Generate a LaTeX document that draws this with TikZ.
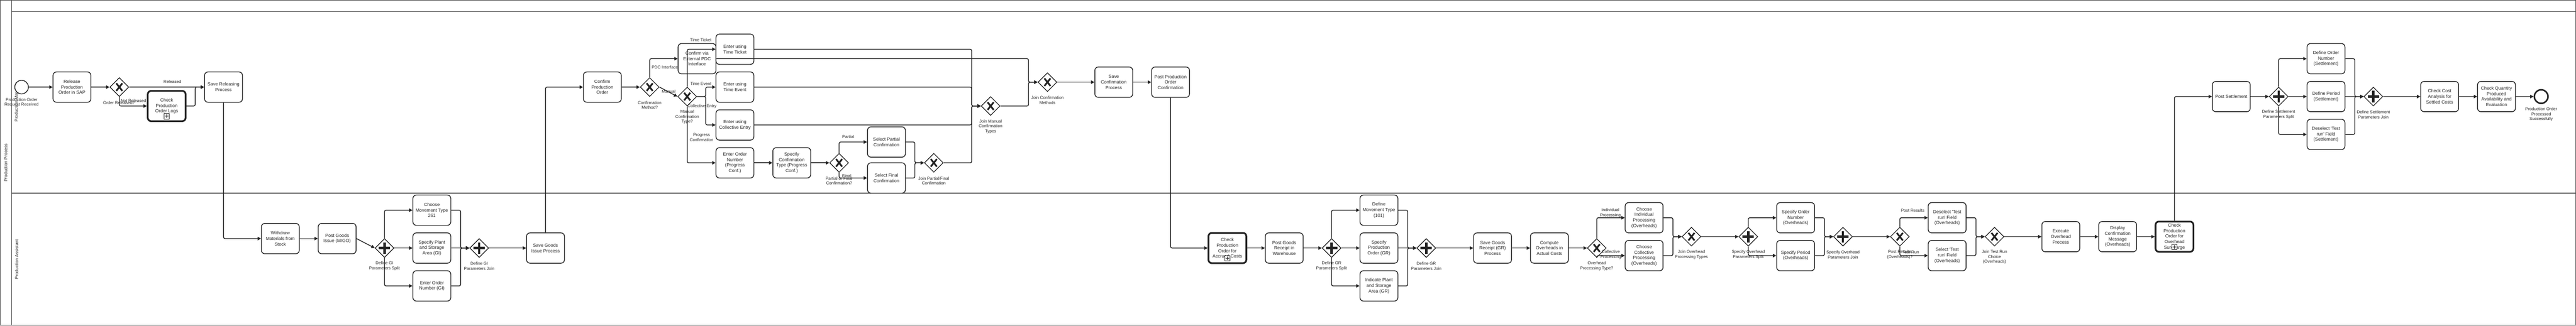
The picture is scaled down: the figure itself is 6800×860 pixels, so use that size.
\documentclass[tikz,border=0pt]{standalone}
\usepackage{fontspec}
\setmainfont{Liberation Sans}
\usetikzlibrary{arrows.meta,shapes.geometric}
\definecolor{ink}{RGB}{34,34,34}
\definecolor{poolc}{RGB}{70,70,70}
\tikzset{
 task/.style={draw=ink, fill=white, line width=2pt, rounded corners=9pt, minimum width=100pt, minimum height=80pt, align=center, inner sep=1pt, font=\fontsize{12}{14.5}\selectfont, text=ink},
 sub/.style={task, line width=4.5pt},
 gw/.style={draw=ink, fill=white, line width=1.8pt, diamond, minimum width=50pt, minimum height=50pt, inner sep=0pt},
 xgw/.style={gw, path picture={\draw[ink, line width=4.5pt] ([shift={(-8pt,-10pt)}]path picture bounding box.center) -- ([shift={(8pt,10pt)}]path picture bounding box.center) ([shift={(-8pt,10pt)}]path picture bounding box.center) -- ([shift={(8pt,-10pt)}]path picture bounding box.center);}},
 pgw/.style={gw, path picture={\draw[ink, line width=6pt] ([shift={(-15pt,0pt)}]path picture bounding box.center) -- ([shift={(15pt,0pt)}]path picture bounding box.center) ([shift={(0pt,-15pt)}]path picture bounding box.center) -- ([shift={(0pt,15pt)}]path picture bounding box.center);}},
 startev/.style={circle, draw=ink, fill=white, line width=2pt, minimum size=36pt, inner sep=0pt},
 endev/.style={circle, draw=ink, fill=white, line width=4pt, minimum size=36pt, inner sep=0pt},
 flow/.style={draw=ink, line width=2pt, rounded corners=4pt, -{Triangle[length=9pt,width=9pt]}},
 lbl/.style={font=\fontsize{11}{13}\selectfont, text=ink, align=center, inner sep=0pt},
 laneline/.style={draw=poolc, line width=1.5pt},
 lanetxt/.style={font=\fontsize{11.5}{13}\selectfont, text=ink, rotate=90, inner sep=0pt},
}
\newcommand\bpmnsub[1]{%
 \draw[ink, fill=white, line width=0.9pt] ([shift={(-7pt,-34pt)}]#1.center) rectangle ([shift={(7pt,-20pt)}]#1.center);
 \draw[ink, line width=1.3pt] ([shift={(-5pt,-27pt)}]#1.center) -- ([shift={(5pt,-27pt)}]#1.center) ([shift={(0pt,-32pt)}]#1.center) -- ([shift={(0pt,-22pt)}]#1.center);}
\begin{document}
\begin{tikzpicture}[x=1pt,y=-1pt]
\useasboundingbox (0,0) rectangle (6800,860);
% pool and lanes
\draw[laneline] (0.75,0.75) rectangle (6799.25,859.25);
\draw[laneline] (30,0) -- (30,860);
\draw[laneline] (30,30) -- (6800,30);
\draw[laneline] (30,510) -- (6800,510);
\node[lanetxt] (poolname) at (15,430) {Production Process};
\node[lanetxt] (lanePM) at (44,270) {Production Manager};
\node[lanetxt] (lanePA) at (44,685) {Production Assistant};

% ---- top lane, part 1
\node[startev] (start) at (57,230) {};
\node[lbl] (startL) at (57,270.5) {Production Order\\Request Received};
\node[task] (t1) at (190,230) {Release\\Production\\Order in SAP};
\node[xgw] (g1) at (315,230) {};
\node[lbl] (g1L) at (314,271) {Order Released?};
\node[sub] (t2) at (440,280) {Check\\Production\\Order Logs}; \bpmnsub{t2}
\node[task] (t3) at (590,230) {Save Releasing\\Process};

% ---- bottom lane, part 1
\node[task] (b1) at (740,630) {Withdraw\\Materials from\\Stock};
\node[task] (b2) at (890,630) {Post Goods\\Issue (MIGO)};
\node[pgw] (gp1) at (1015,655) {};
\node[lbl] (gp1L) at (1015,702.5) {Define GI\\Parameters Split};
\node[task] (b3) at (1140,555) {Choose\\Movement Type\\261};
\node[task] (b4) at (1140,655) {Specify Plant\\and Storage\\Area (GI)};
\node[task] (b5) at (1140,755) {Enter Order\\Number (GI)};
\node[pgw] (gp2) at (1265,655) {};
\node[lbl] (gp2L) at (1265,702.5) {Define GI\\Parameters Join};
\node[task] (b6) at (1440,655) {Save Goods\\Issue Process};

% ---- top lane, part 2
\node[task] (t4) at (1590,230) {Confirm\\Production\\Order};
\node[xgw] (g2) at (1715,230) {};
\node[lbl] (g2L) at (1715,277.5) {Confirmation\\Method?};
\node[task] (t5) at (1840,155) {Confirm via\\External PDC\\Interface};
\node[xgw] (g3) at (1814,255) {};
\node[lbl] (g3L) at (1814,309) {Manual\\Confirmation\\Type?};
\node[task] (t6) at (1940,130) {Enter using\\Time Ticket};
\node[task] (t7) at (1940,230) {Enter using\\Time Event};
\node[task] (t8) at (1940,330) {Enter using\\Collective Entry};
\node[task] (t9) at (1940,430) {Enter Order\\Number\\(Progress\\Conf.)};
\node[task] (t10) at (2090,430) {Specify\\Confirmation\\Type (Progress\\Conf.)};
\node[xgw] (g4) at (2215,430) {};
\node[lbl] (g4L) at (2215,477.5) {Partial or Final\\Confirmation?};
\node[task] (t11) at (2340,375) {Select Partial\\Confirmation};
\node[task] (t12) at (2340,470) {Select Final\\Confirmation};
\node[xgw] (g5) at (2465,430) {};
\node[lbl] (g5L) at (2465,477.5) {Join Partial/Final\\Confirmation};
\node[xgw] (g6) at (2615,280) {};
\node[lbl] (g6L) at (2615,334) {Join Manual\\Confirmation\\Types};
\node[xgw] (g7) at (2765,217) {};
\node[lbl] (g7L) at (2765,264.5) {Join Confirmation\\Methods};
\node[task] (t13) at (2940,217) {Save\\Confirmation\\Process};
\node[task] (t14) at (3090,217) {Post Production\\Order\\Confirmation};

% ---- bottom lane, part 2
\node[sub] (c1) at (3240,655) {Check\\Production\\Order for\\Accrued Costs}; \bpmnsub{c1}
\node[task] (c2) at (3390,655) {Post Goods\\Receipt in\\Warehouse};
\node[pgw] (gp3) at (3515,655) {};
\node[lbl] (gp3L) at (3515,702.5) {Define GR\\Parameters Split};
\node[task] (c3) at (3640,555) {Define\\Movement Type\\(101)};
\node[task] (c4) at (3640,655) {Specify\\Production\\Order (GR)};
\node[task] (c5) at (3640,755) {Indicate Plant\\and Storage\\Area (GR)};
\node[pgw] (gp4) at (3765,655) {};
\node[lbl] (gp4L) at (3765,702.5) {Define GR\\Parameters Join};
\node[task] (c6) at (3940,655) {Save Goods\\Receipt (GR)\\Process};
\node[task] (c7) at (4090,655) {Compute\\Overheads in\\Actual Costs};
\node[xgw] (g8) at (4215,655) {};
\node[lbl] (g8L) at (4215,702.5) {Overhead\\Processing Type?};
\node[task] (c8) at (4340,575) {Choose\\Individual\\Processing\\(Overheads)};
\node[task] (c9) at (4340,675) {Choose\\Collective\\Processing\\(Overheads)};
\node[xgw] (g9) at (4465,625) {};
\node[lbl] (g9L) at (4465,672.5) {Join Overhead\\Processing Types};
\node[pgw] (gp5) at (4615,625) {};
\node[lbl] (gp5L) at (4615,672.5) {Specify Overhead\\Parameters Split};
\node[task] (c10) at (4740,575) {Specify Order\\Number\\(Overheads)};
\node[task] (c11) at (4740,675) {Specify Period\\(Overheads)};
\node[pgw] (gp6) at (4865,625) {};
\node[lbl] (gp6L) at (4865,672.5) {Specify Overhead\\Parameters Join};
\node[xgw] (g10) at (5015,625) {};
\node[lbl] (g10L) at (5015,672.5) {Post Results\\(Overheads)?};
\node[task] (c12) at (5140,575) {Deselect \textquotesingle Test\\run\textquotesingle{} Field\\(Overheads)};
\node[task] (c13) at (5140,675) {Select \textquotesingle Test\\run\textquotesingle{} Field\\(Overheads)};
\node[xgw] (g11) at (5265,625) {};
\node[lbl] (g11L) at (5265,679) {Join Test Run\\Choice\\(Overheads)};
\node[task] (c14) at (5440,625) {Execute\\Overhead\\Process};
\node[task] (c15) at (5590,625) {Display\\Confirmation\\Message\\(Overheads)};
\node[sub] (c16) at (5740,625) {Check\\Production\\Order for\\Overhead\\Surcharge}; \bpmnsub{c16}

% ---- top lane, part 3
\node[task] (s1) at (5890,255) {Post Settlement};
\node[pgw] (gp7) at (6015,255) {};
\node[lbl] (gp7L) at (6015,302.5) {Define Settlement\\Parameters Split};
\node[task] (s2) at (6140,155) {Define Order\\Number\\(Settlement)};
\node[task] (s3) at (6140,255) {Define Period\\(Settlement)};
\node[task] (s4) at (6140,355) {Deselect \textquotesingle Test\\run\textquotesingle{} Field\\(Settlement)};
\node[pgw] (gp8) at (6265,255) {};
\node[lbl] (gp8L) at (6265,302.5) {Define Settlement\\Parameters Join};
\node[task] (s5) at (6440,255) {Check Cost\\Analysis for\\Settled Costs};
\node[task] (s6) at (6590,255) {Check Quantity\\Produced\\Availability and\\Evaluation};
\node[endev] (endev) at (6708,255) {};
\node[lbl] (endL) at (6708,302) {Production Order\\Processed\\Successfully};

% ---- connectors
\draw[flow] (start.east) -- (t1.west);
\draw[flow] (t1.east) -- (g1.west);
\draw[flow] (g1.east) -- (t3.west);
\draw[flow] (g1.south) |- (t2.west);
\draw[flow] (t2.east) -- ++(23,0) |- (t3.west);
\draw[flow] (t3.south) |- (b1.west);

\draw[flow] (b1.east) -- (b2.west);
\draw[flow] (b2.east) -- (gp1.west);
\draw[flow] (gp1.north) |- (b3.west);
\draw[flow] (gp1.east) -- (b4.west);
\draw[flow] (gp1.south) |- (b5.west);
\draw[flow] (b3.east) -- ++(25,0) |- (gp2.west);
\draw[flow] (b4.east) -- (gp2.west);
\draw[flow] (b5.east) -- ++(25,0) |- (gp2.west);
\draw[flow] (gp2.east) -- (b6.west);
\draw[flow] (b6.north) |- (t4.west);

\draw[flow] (t4.east) -- (g2.west);
\draw[flow] (g2.north) |- (t5.west);
\draw[flow] (g2.east) -- (g3.west);
\draw[flow] (g3.north) |- (t6.west);
\draw[flow] (g3.east) -- (1863,255) |- (t7.west);
\draw[flow] (g3.east) -- (1863,255) |- (t8.west);
\draw[flow] (g3.south) |- (t9.west);
\draw[flow] (t9.east) -- (t10.west);
\draw[flow] (t10.east) -- (g4.west);
\draw[flow] (g4.north) |- (t11.west);
\draw[flow] (g4.south) |- (t12.west);
\draw[flow] (t11.east) -- ++(24,0) |- (g5.west);
\draw[flow] (t12.east) -- ++(24,0) |- (g5.west);
\draw[flow] (t6.east) -- (2565,130) |- (g6.west);
\draw[flow] (t7.east) -- (2565,230) |- (g6.west);
\draw[flow] (t8.east) -- (2565,330) |- (g6.west);
\draw[flow] (g5.east) -- (2565,430) |- (g6.west);
\draw[flow] (t5.east) -- (2715,155) |- (g7.west);
\draw[flow] (g6.east) -- (2715,280) |- (g7.west);
\draw[flow] (g7.east) -- (t13.west);
\draw[flow] (t13.east) -- (t14.west);
\draw[flow] (t14.south) |- (c1.west);

\draw[flow] (c1.east) -- (c2.west);
\draw[flow] (c2.east) -- (gp3.west);
\draw[flow] (gp3.north) |- (c3.west);
\draw[flow] (gp3.east) -- (c4.west);
\draw[flow] (gp3.south) |- (c5.west);
\draw[flow] (c3.east) -- ++(25,0) |- (gp4.west);
\draw[flow] (c4.east) -- (gp4.west);
\draw[flow] (c5.east) -- ++(25,0) |- (gp4.west);
\draw[flow] (gp4.east) -- (c6.west);
\draw[flow] (c6.east) -- (c7.west);
\draw[flow] (c7.east) -- (g8.west);
\draw[flow] (g8.north) |- (c8.west);
\draw[flow] (g8.south) |- (c9.west);
\draw[flow] (c8.east) -- ++(25,0) |- (g9.west);
\draw[flow] (c9.east) -- ++(25,0) |- (g9.west);
\draw[flow] (g9.east) -- (gp5.west);
\draw[flow] (gp5.north) |- (c10.west);
\draw[flow] (gp5.south) |- (c11.west);
\draw[flow] (c10.east) -- ++(25,0) |- (gp6.west);
\draw[flow] (c11.east) -- ++(25,0) |- (gp6.west);
\draw[flow] (gp6.east) -- (g10.west);
\draw[flow] (g10.north) |- (c12.west);
\draw[flow] (g10.south) |- (c13.west);
\draw[flow] (c12.east) -- ++(25,0) |- (g11.west);
\draw[flow] (c13.east) -- ++(25,0) |- (g11.west);
\draw[flow] (g11.east) -- (c14.west);
\draw[flow] (c14.east) -- (c15.west);
\draw[flow] (c15.east) -- (c16.west);
\draw[flow] (c16.north) |- (s1.west);

\draw[flow] (s1.east) -- (gp7.west);
\draw[flow] (gp7.north) |- (s2.west);
\draw[flow] (gp7.east) -- (s3.west);
\draw[flow] (gp7.south) |- (s4.west);
\draw[flow] (s2.east) -- ++(25,0) |- (gp8.west);
\draw[flow] (s3.east) -- (gp8.west);
\draw[flow] (s4.east) -- ++(25,0) |- (gp8.west);
\draw[flow] (gp8.east) -- (s5.west);
\draw[flow] (s5.east) -- (s6.west);
\draw[flow] (s6.east) -- (endev.west);

% ---- connector labels
\node[lbl] (lRel) at (455,216) {Released};
\node[lbl] (lNot) at (352,266) {Not Released};
\node[lbl] (lPDC) at (1755,177) {PDC Interface};
\node[lbl] (lMan) at (1765,241) {Manual};
\node[lbl] (lTT) at (1850,106) {Time Ticket};
\node[lbl] (lTE) at (1850,221) {Time Event};
\node[lbl] (lCE) at (1853,281) {Collective Entry};
\node[lbl] (lPC) at (1852,362.5) {Progress\\Confirmation};
\node[lbl] (lPar) at (2239,361) {Partial};
\node[lbl] (lFin) at (2235,465) {Final};
\node[lbl] (lInd) at (4251,562.5) {Individual\\Processing};
\node[lbl] (lCol) at (4252,672.5) {Collective\\Processing};
\node[lbl] (lPR) at (5049,556) {Post Results};
\node[lbl] (lTR) at (5044,666) {Test Run};
\end{tikzpicture}
\end{document}
